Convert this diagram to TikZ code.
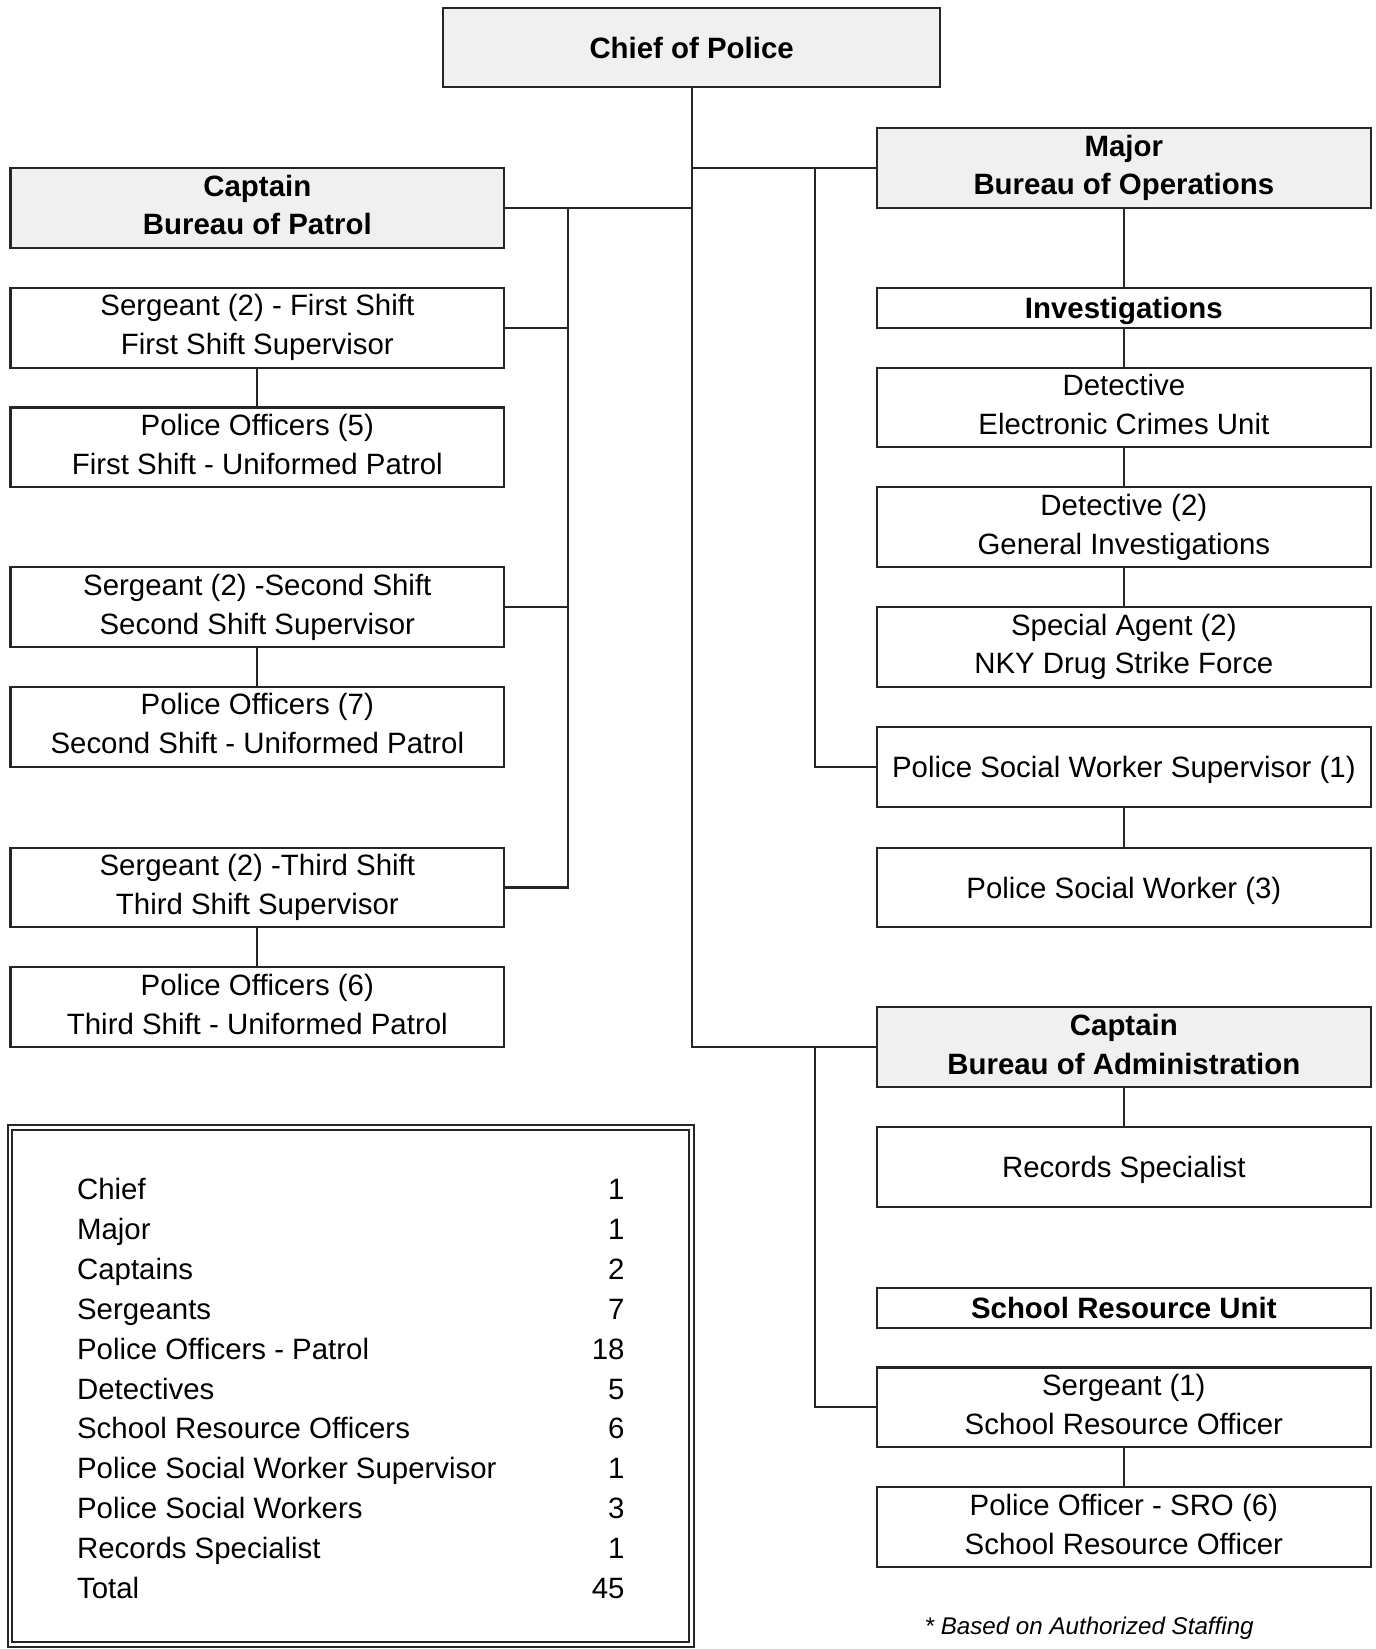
\documentclass[tikz,border=0pt]{standalone}
\usepackage{fontspec}
\setmainfont{Liberation Sans}
\usepackage{xcolor}
\usepackage{tikz}
\usetikzlibrary{positioning}
\definecolor{headfill}{RGB}{240,240,240}
\definecolor{rulecolor}{RGB}{38,38,38}
\newcommand{\boxstrut}{\rule[-3pt]{0pt}{16pt}}
\tikzset{
    staff box/.style={rectangle, draw=rulecolor, line width=1pt, fill=white, minimum width=235pt, minimum height=38pt, inner ysep=0pt, outer sep=0pt, align=center, font=\fontsize{14}{18.5}\selectfont, execute at begin node=\boxstrut, execute at end node=\boxstrut},
    head box/.style={staff box, fill=headfill, font=\fontsize{14}{18.5}\selectfont\bfseries},
    unit label/.style={staff box, minimum height=19pt, font=\fontsize{14}{18.5}\selectfont\bfseries},
    org line/.style={draw=rulecolor, line width=1pt},
    tally/.style={inner sep=0pt, font=\fontsize{14}{19}\selectfont}
}

\begin{document}
\begin{tikzpicture}[x=0.5pt, y=-0.5pt, node distance=19pt]
\useasboundingbox (0,0) rectangle (1310,1570);

\node[head box, minimum width=236.5pt, minimum height=37.5pt] (chief) at (658.5,45.5) {Chief of Police};

\node[head box] (patrol) at (245,198) {Captain\\Bureau of Patrol};
\node[staff box, below=of patrol] (sgt1) {Sergeant (2) - First Shift\\First Shift Supervisor};
\node[staff box, below=of sgt1] (po1) {Police Officers (5)\\First Shift - Uniformed Patrol};
\node[staff box, below=38pt of po1] (sgt2) {Sergeant (2) -Second Shift\\Second Shift Supervisor};
\node[staff box, below=of sgt2] (po2) {Police Officers (7)\\Second Shift - Uniformed Patrol};
\node[staff box, below=38.5pt of po2] (sgt3) {Sergeant (2) -Third Shift\\Third Shift Supervisor};
\node[staff box, below=of sgt3] (po3) {Police Officers (6)\\Third Shift - Uniformed Patrol};

\node[head box] (major) at (1070,160) {Major\\Bureau of Operations};
\node[unit label, below=38pt of major] (invest) {Investigations};
\node[staff box, below=of invest] (det1) {Detective\\Electronic Crimes Unit};
\node[staff box, below=of det1] (det2) {Detective (2)\\General Investigations};
\node[staff box, below=of det2] (agent) {Special Agent (2)\\NKY Drug Strike Force};
\node[staff box, below=of agent] (pswsup) {Police Social Worker Supervisor (1)};
\node[staff box, below=19.5pt of pswsup] (psw) {Police Social Worker (3)};

\node[head box] (admin) at (1070,997) {Captain\\Bureau of Administration};
\node[staff box, below=of admin] (records) {Records Specialist};
\node[unit label, below=38.5pt of records] (sru) {School Resource Unit};
\node[staff box, below=of sru] (sgtsro) {Sergeant (1)\\School Resource Officer};
\node[staff box, below=of sgtsro] (posro) {Police Officer - SRO (6)\\School Resource Officer};

\coordinate[right=30.5pt of patrol.east] (patrolbus);
\coordinate[left=29.5pt of major.west] (opsbus);
\coordinate[left=29.5pt of admin.west] (adminbus);

\draw[org line] (chief.south) |- (admin.west);
\draw[org line] (chief.south |- major.west) -- (major.west);
\draw[org line] (patrol.east) -- (patrol.east -| chief.south);
\draw[org line] (sgt3.east) -| (patrolbus);
\draw[org line] (sgt1.east) -- (sgt1.east -| patrolbus);
\draw[org line] (sgt2.east) -- (sgt2.east -| patrolbus);
\draw[org line] (pswsup.west) -| (opsbus);
\draw[org line] (sgtsro.west) -| (adminbus);
\foreach \upper/\lower in {sgt1/po1, sgt2/po2, sgt3/po3, major/invest, invest/det1, det1/det2, det2/agent, pswsup/psw, admin/records, sgtsro/posro}
    \draw[org line] (\upper) -- (\lower);

\node[draw=rulecolor, line width=0.9pt, double, double distance=1.4pt, minimum width=324.5pt, minimum height=246pt] (legend) at (334,1319.5) {};
\foreach \role/\howmany [count=\i] in {Chief/1, Major/1, Captains/2, Sergeants/7, Police Officers - Patrol/18, Detectives/5, School Resource Officers/6, Police Social Worker Supervisor/1, Police Social Workers/3, Records Specialist/1, Total/45}
{
    \node[tally, anchor=base west] (role\i) at (73,1104+38*\i) {\role};
    \node[tally, anchor=base east] (sum\i) at (595,1104+38*\i) {\howmany};
}

\node[font=\fontsize{11.5}{14}\selectfont\itshape] (footnote) at (1037,1550) {* Based on Authorized Staffing};
\end{tikzpicture}
\end{document}
